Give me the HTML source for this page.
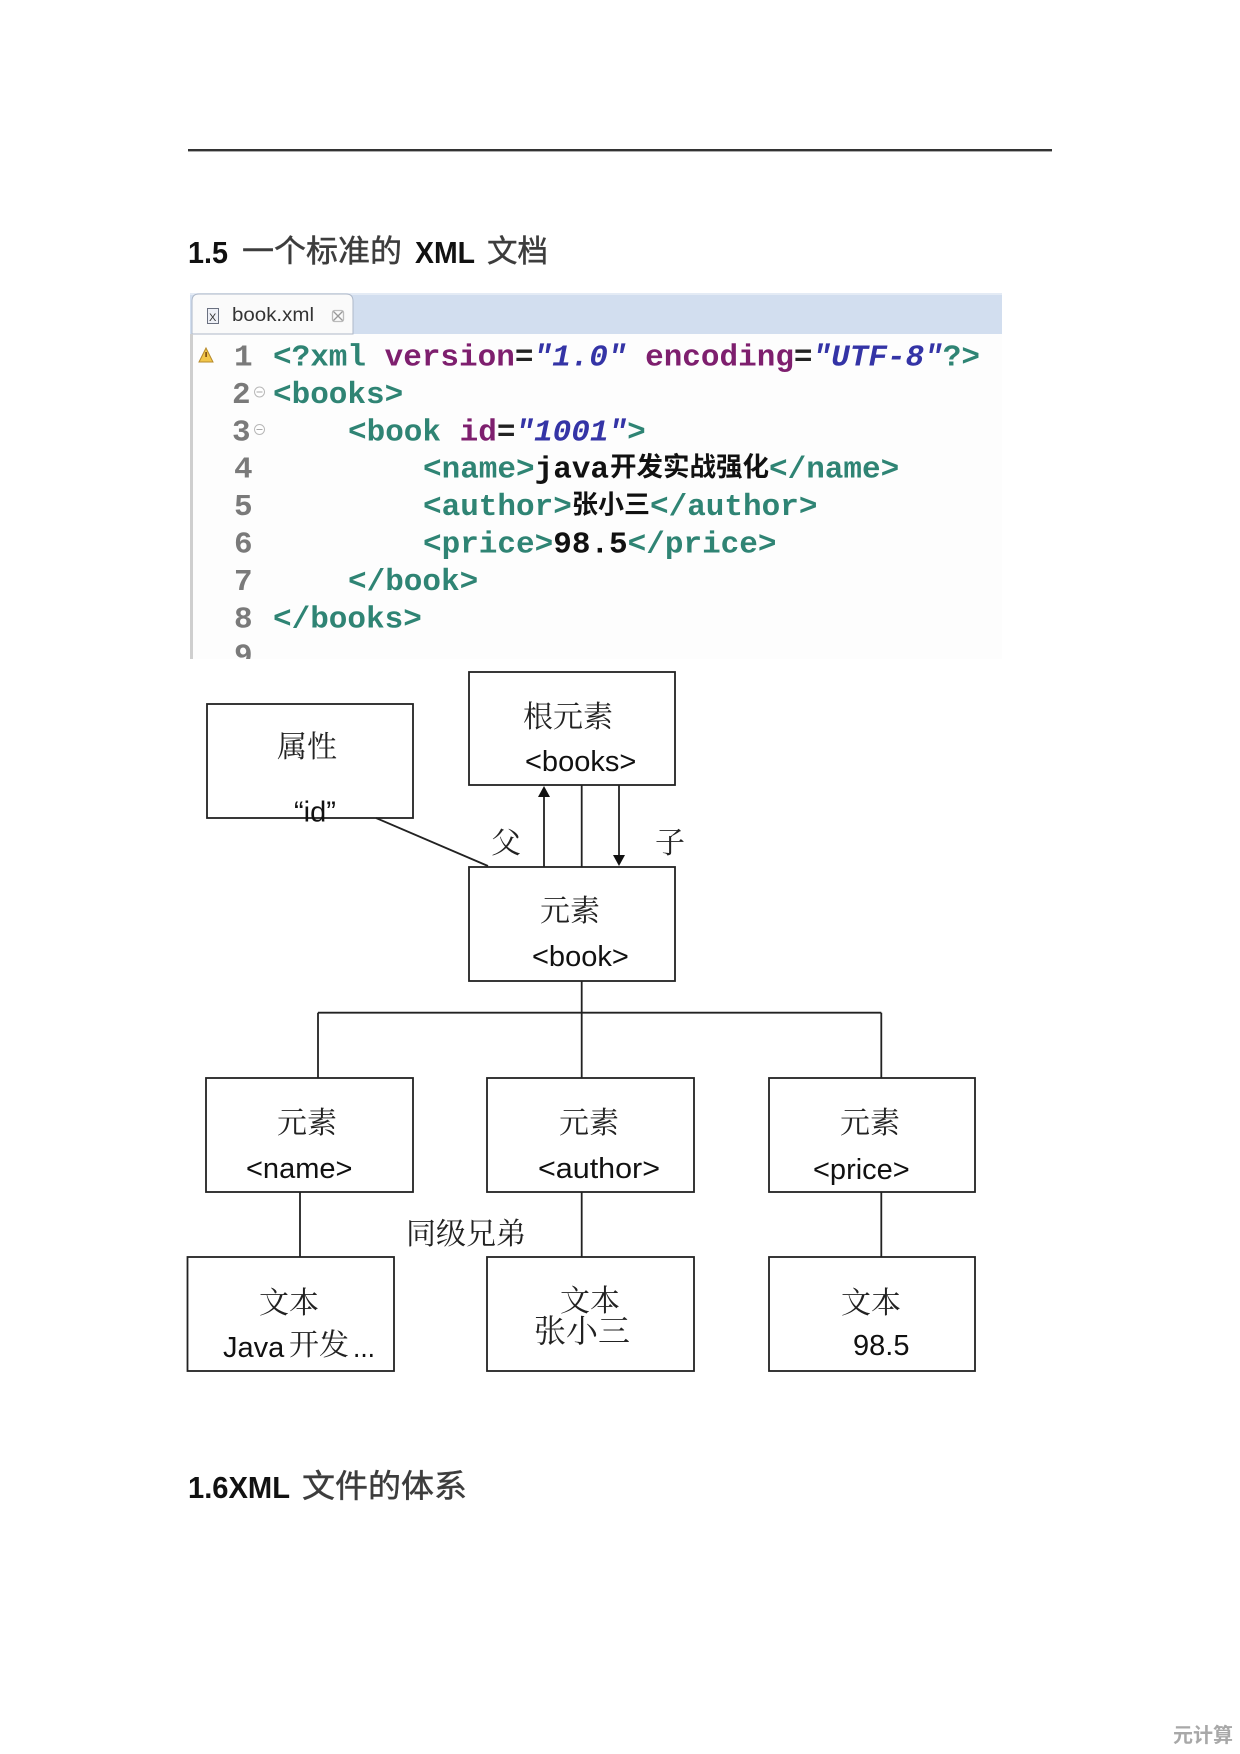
<!DOCTYPE html>
<html>
<head>
<meta charset="utf-8">
<style>
  html,body{margin:0;padding:0;background:#fff;}
  svg{display:block;}
  .cjk{font-family:"Noto Serif CJK SC","Noto Sans CJK SC",serif;}
  .lat{font-family:"Liberation Sans",sans-serif;}
  .mono{font-family:"Liberation Mono",monospace;font-weight:bold;}
</style>
</head>
<body>
<svg width="1240" height="1754" viewBox="0 0 1240 1754" xmlns="http://www.w3.org/2000/svg">
  <rect x="0" y="0" width="1240" height="1754" fill="#fff"/>

  <!-- top rule -->
  <rect x="188" y="149" width="864" height="2.4" fill="#333"/>

  <!-- Heading 1.5 -->
  <text x="188" y="263" font-family="Liberation Sans, sans-serif" font-weight="bold" font-size="31" fill="#111" textLength="40" lengthAdjust="spacingAndGlyphs">1.5</text>
  <text x="242" y="262" font-family="Noto Sans CJK SC, sans-serif" font-size="31" fill="#3c3c3c" stroke="#444" stroke-width="0.5" textLength="160" lengthAdjust="spacingAndGlyphs">一个标准的</text>
  <text x="415" y="263" font-family="Liberation Sans, sans-serif" font-weight="bold" font-size="31" fill="#111" textLength="60" lengthAdjust="spacingAndGlyphs">XML</text>
  <text x="487" y="262" font-family="Noto Sans CJK SC, sans-serif" font-size="31" fill="#3c3c3c" stroke="#444" stroke-width="0.5" textLength="61" lengthAdjust="spacingAndGlyphs">文档</text>

  <!-- Editor screenshot -->
  <defs>
    <clipPath id="edclip"><rect x="190" y="293" width="812" height="366"/></clipPath>
  </defs>
  <g clip-path="url(#edclip)">
    <rect x="190" y="293" width="812" height="41" fill="#d2deef"/>
    <rect x="190" y="293" width="812" height="2" fill="#e4ebf5"/>
    <rect x="190" y="334" width="812" height="325" fill="#fdfdfd"/>
    <path d="M192,334 L192,301 Q192,294 199,294 L346,294 Q353,294 353,301 L353,334 Z" fill="#fafafa" stroke="#aeb8c8" stroke-width="1"/>
    <rect x="190" y="334" width="3" height="325" fill="#cfcfcf"/>
    <!-- tab icon -->
    <rect x="207.5" y="308.5" width="11" height="15" fill="#eef0f6" stroke="#6a7080" stroke-width="1"/>
    <text x="209" y="321" font-family="Liberation Sans, sans-serif" font-size="11" fill="#333">X</text>
    <text x="232" y="321" font-family="Liberation Sans, sans-serif" font-size="19" fill="#333" textLength="82" lengthAdjust="spacingAndGlyphs">book.xml</text>
    <g stroke="#999" stroke-width="1.3" fill="none">
      <path d="M333,311 L343,321 M343,311 L333,321"/>
      <rect x="332.5" y="310.5" width="11" height="11" rx="2" stroke="#bbb"/>
    </g>
    <!-- warning icon -->
    <path d="M206,348 L199,362 L213,362 Z" fill="#f2c64a" stroke="#b68a2a" stroke-width="1"/>
    <rect x="205.3" y="352" width="1.6" height="5" fill="#7a4a10"/>
    <!-- fold icons -->
    <circle cx="259.5" cy="392" r="5" fill="#fff" stroke="#b8b8b8" stroke-width="1"/>
    <line x1="256.5" y1="392" x2="262.5" y2="392" stroke="#aaa" stroke-width="1"/>
    <circle cx="259.5" cy="429.5" r="5" fill="#fff" stroke="#b8b8b8" stroke-width="1"/>
    <line x1="256.5" y1="429.5" x2="262.5" y2="429.5" stroke="#aaa" stroke-width="1"/>

    <!-- line numbers -->
    <g class="mono" font-size="31" fill="#7a7a7a">
      <text x="234" y="365.5">1</text>
      <text x="232" y="402.9">2</text>
      <text x="232" y="440.3">3</text>
      <text x="234" y="477.7">4</text>
      <text x="234" y="515.1">5</text>
      <text x="234" y="552.5">6</text>
      <text x="234" y="589.9">7</text>
      <text x="234" y="627.3">8</text>
      <text x="234" y="664.7">9</text>
    </g>

    <!-- code -->
    <g class="mono" font-size="31" xml:space="preserve">
      <text x="273" y="365.5"><tspan fill="#2f8474">&lt;?xml</tspan> <tspan fill="#7e1f6e">version</tspan><tspan fill="#222">=</tspan><tspan fill="#3434a6" font-style="italic">"1.0"</tspan> <tspan fill="#7e1f6e">encoding</tspan><tspan fill="#222">=</tspan><tspan fill="#3434a6" font-style="italic">"UTF-8"</tspan><tspan fill="#2f8474">?&gt;</tspan></text>
      <text x="273" y="402.9" fill="#2f8474">&lt;books&gt;</text>
      <text x="348" y="440.3"><tspan fill="#2f8474">&lt;book</tspan> <tspan fill="#7e1f6e">id</tspan><tspan fill="#222">=</tspan><tspan fill="#3434a6" font-style="italic">"1001"</tspan><tspan fill="#2f8474">&gt;</tspan></text>
      <text x="423" y="477.7"><tspan fill="#2f8474">&lt;name&gt;</tspan><tspan fill="#111">java</tspan></text>
      <text x="769" y="477.7" fill="#2f8474">&lt;/name&gt;</text>
      <text x="423" y="515.1" fill="#2f8474">&lt;author&gt;</text>
      <text x="650" y="515.1" fill="#2f8474">&lt;/author&gt;</text>
      <text x="423" y="552.5"><tspan fill="#2f8474">&lt;price&gt;</tspan><tspan fill="#111">98.5</tspan><tspan fill="#2f8474">&lt;/price&gt;</tspan></text>
      <text x="348" y="589.9" fill="#2f8474">&lt;/book&gt;</text>
      <text x="273" y="627.3" fill="#2f8474">&lt;/books&gt;</text>
    </g>
    <text x="610" y="476" font-family="Noto Sans CJK SC, sans-serif" font-weight="bold" font-size="26.5" fill="#111" textLength="159" lengthAdjust="spacingAndGlyphs">开发实战强化</text>
    <text x="572" y="513.5" font-family="Noto Sans CJK SC, sans-serif" font-weight="bold" font-size="26" fill="#111" textLength="78" lengthAdjust="spacingAndGlyphs">张小三</text>
  </g>

  <!-- Diagram -->
  <g fill="none" stroke="#222" stroke-width="1.8">
    <!-- boxes -->
    <rect x="207" y="704" width="206" height="114"/>
    <rect x="469" y="672" width="206" height="113"/>
    <rect x="469" y="867" width="206" height="114"/>
    <rect x="206" y="1078" width="207" height="114"/>
    <rect x="487" y="1078" width="207" height="114"/>
    <rect x="769" y="1078" width="206" height="114"/>
    <rect x="187.5" y="1257" width="206.5" height="114"/>
    <rect x="487" y="1257" width="207" height="114"/>
    <rect x="769" y="1257" width="206" height="114"/>
    <!-- connectors -->
    <line x1="376" y1="818" x2="488" y2="866"/>
    <line x1="544" y1="867" x2="544" y2="796"/>
    <line x1="581.7" y1="785" x2="581.7" y2="867"/>
    <line x1="619" y1="785" x2="619" y2="856"/>
    <line x1="581.7" y1="981" x2="581.7" y2="1012.7"/>
    <line x1="318" y1="1012.7" x2="881.3" y2="1012.7"/>
    <line x1="318" y1="1012.7" x2="318" y2="1078"/>
    <line x1="581.7" y1="1012.7" x2="581.7" y2="1078"/>
    <line x1="881.3" y1="1012.7" x2="881.3" y2="1078"/>
    <line x1="300" y1="1192" x2="300" y2="1257"/>
    <line x1="581.7" y1="1192" x2="581.7" y2="1257"/>
    <line x1="881.3" y1="1192" x2="881.3" y2="1257"/>
  </g>
  <!-- arrowheads -->
  <path d="M544,786 L538,797 L550,797 Z" fill="#111"/>
  <path d="M619,866 L613,855 L625,855 Z" fill="#111"/>

  <!-- diagram labels: CJK -->
  <g class="cjk" font-size="30" fill="#222">
    <text x="277" y="757">属性</text>
    <text x="523" y="727">根元素</text>
    <text x="491" y="853">父</text>
    <text x="655" y="853">子</text>
    <text x="540" y="921">元素</text>
    <text x="277" y="1133">元素</text>
    <text x="559" y="1133">元素</text>
    <text x="840" y="1133">元素</text>
    <text x="406" y="1244">同级兄弟</text>
    <text x="259" y="1313">文本</text>
    <text x="560" y="1311">文本</text>
    <text x="841" y="1313">文本</text>
    <text x="534" y="1342" font-size="32">张小三</text>
  </g>
  <!-- diagram labels: Latin -->
  <g class="lat" font-size="29" fill="#111">
    <text x="294" y="821.7">“id”</text>
    <text x="525" y="771">&lt;books&gt;</text>
    <text x="532" y="966">&lt;book&gt;</text>
    <text x="246" y="1178">&lt;name&gt;</text>
    <text x="538" y="1178" textLength="122" lengthAdjust="spacingAndGlyphs">&lt;author&gt;</text>
    <text x="813" y="1179">&lt;price&gt;</text>
    <text x="853" y="1355">98.5</text>
    <text x="223" y="1357">Java</text>
    <text x="353" y="1357" textLength="22" lengthAdjust="spacingAndGlyphs">...</text>
  </g>
  <text x="289" y="1355" class="cjk" font-size="30" fill="#222">开发</text>

  <!-- Heading 1.6 -->
  <text x="188" y="1498" font-family="Liberation Sans, sans-serif" font-weight="bold" font-size="31" fill="#111" textLength="102" lengthAdjust="spacingAndGlyphs">1.6XML</text>
  <text x="302" y="1497" font-family="Noto Sans CJK SC, sans-serif" font-size="32" fill="#3c3c3c" stroke="#444" stroke-width="0.5" textLength="165" lengthAdjust="spacingAndGlyphs">文件的体系</text>

  <!-- watermark -->
  <text x="1173" y="1742" font-family="Noto Sans CJK SC, sans-serif" font-weight="bold" font-size="20" fill="#a8a8a8" textLength="60" lengthAdjust="spacingAndGlyphs">元计算</text>
</svg>
</body>
</html>
